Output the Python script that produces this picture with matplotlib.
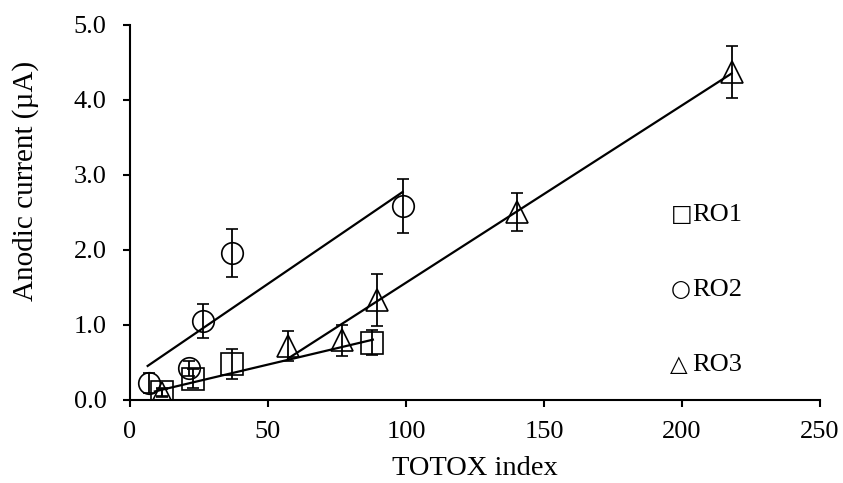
import matplotlib
matplotlib.use("Agg")
import matplotlib.pyplot as plt

plt.rcParams['font.family'] = ['Liberation Serif', 'DejaVu Sans']

# RO1 (squares)
ro1_x = [11.7, 22.9, 37.1, 87.7]
ro1_y = [0.10, 0.28, 0.48, 0.76]
ro1_err = [0.05, 0.13, 0.20, 0.17]
ro1_fit_x = [9, 88]
ro1_fit_y = [0.11, 0.80]

# RO2 (circles)
ro2_x = [6.9, 21.4, 26.5, 36.8, 98.8]
ro2_y = [0.22, 0.42, 1.05, 1.95, 2.58]
ro2_err = [0.13, 0.10, 0.23, 0.32, 0.36]
ro2_fit_x = [6.4, 98.8]
ro2_fit_y = [0.45, 2.77]

# RO3 (triangles)
ro3_x = [11.5, 57.3, 76.9, 89.5, 140.3, 218.0]
ro3_y = [0.09, 0.71, 0.79, 1.33, 2.50, 4.37]
ro3_err = [0.05, 0.20, 0.21, 0.35, 0.25, 0.35]
ro3_fit_x = [57.3, 218.0]
ro3_fit_y = [0.55, 4.35]

legend_symbols = ["\u25a1", "\u25cb", "\u25b3"]
legend_names = ["RO1", "RO2", "RO3"]
legend_y = [2.5, 1.5, 0.5]

fig = plt.figure(figsize=(8.43, 4.83), dpi=100)
ax = fig.add_axes([0.1542, 0.1725, 0.8185, 0.7764])

series = [(ro1_x, ro1_y, ro1_err, 's'), (ro2_x, ro2_y, ro2_err, 'o'), (ro3_x, ro3_y, ro3_err, '^')]
for xs, ys, es, m in series:
    ax.errorbar(xs, ys, yerr=es, fmt=m, ms=15.5, mfc='none', mec='black', mew=1.2,
                ecolor='black', elinewidth=1.3, capsize=4, capthick=1.3)

for fx, fy in [(ro1_fit_x, ro1_fit_y), (ro2_fit_x, ro2_fit_y), (ro3_fit_x, ro3_fit_y)]:
    ax.plot(fx, fy, color='black', lw=1.6)

# text legend (symbol + name)
for sym, name, ly in zip(legend_symbols, legend_names, legend_y):
    ax.text(195.8, ly - 0.115, sym, family='DejaVu Sans', fontsize=16.5, va='baseline', ha='left')
    ax.text(203.8, ly - 0.115, name, fontsize=19, va='baseline', ha='left')

ax.set_xlim(0, 250)
ax.set_ylim(0, 5)
ax.set_xticks([0, 50, 100, 150, 200, 250])
ax.set_yticks([0, 1, 2, 3, 4, 5])
ax.set_yticklabels([f"{v:.1f}" for v in [0, 1, 2, 3, 4, 5]])
ax.spines['top'].set_visible(False)
ax.spines['right'].set_visible(False)
ax.spines['left'].set_linewidth(1.5)
ax.spines['bottom'].set_linewidth(1.5)
ax.tick_params(direction='out', length=5, width=1.5, labelsize=19)
ax.tick_params(axis='x', pad=10.5)
ax.tick_params(axis='y', pad=12)

ax.set_xlabel("TOTOX index", fontsize=20.5, va='baseline')
ax.xaxis.set_label_coords(0.5, -0.2013)
ax.set_ylabel("Anodic current (\u00b5A)", fontsize=21, va='baseline')
ax.yaxis.set_label_coords(-0.1406, 0.582)

fig.savefig("out.png", dpi=100)
